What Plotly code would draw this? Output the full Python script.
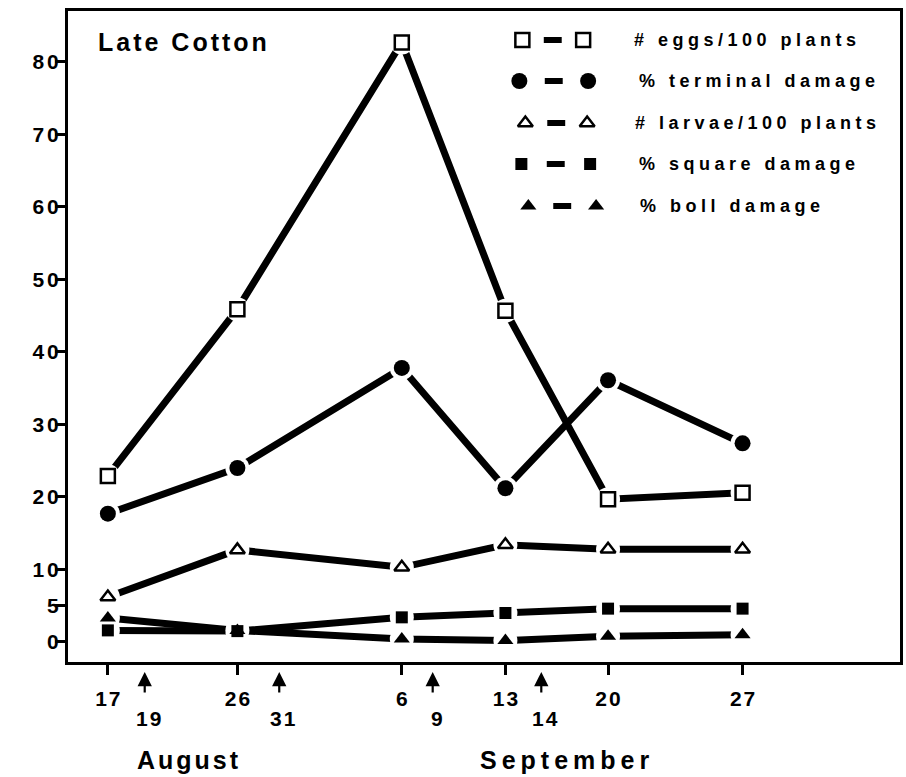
import plotly.graph_objects as go

# ---- data ----
date_labels = ["17", "26", "6", "13", "20", "27"]          # sampling dates
date_pos = [40, 170, 335, 439, 542, 677]                   # positions along the drawn date axis
spray_labels = ["19", "31", "9", "14"]                     # arrowed dates
spray_pos = [77, 212, 366, 475]
month_labels = ["August", "September"]

eggs = [22.9, 45.9, 82.7, 45.7, 19.7, 20.6]
terminal = [17.7, 24.0, 37.8, 21.2, 36.1, 27.4]
larvae = [6.2, 12.7, 10.3, 13.4, 12.8, 12.8]
square_dmg = [1.6, 1.5, 3.4, 4.0, 4.6, 4.6]
boll_dmg = [3.3, 1.6, 0.4, 0.2, 0.8, 1.0]

y_ticks = [0, 5, 10, 20, 30, 40, 50, 60, 70, 80]

series_names = ["# eggs/100 plants", "% terminal damage", "# larvae/100 plants",
                "% square damage", "% boll damage"]
series_vals = [eggs, terminal, larvae, square_dmg, boll_dmg]

FONT = "Liberation Sans, Arial, Helvetica, sans-serif"
styles = [
    dict(symbol="square", size=14, color="white", line=dict(color="black", width=2.5)),
    dict(symbol="circle", size=16, color="black", line=dict(width=0)),
    dict(symbol="triangle-up", size=13, color="white", line=dict(color="black", width=2.5)),
    dict(symbol="square", size=12, color="black", line=dict(width=0)),
    dict(symbol="triangle-up", size=14, color="black", line=dict(width=0)),
]

def spaced(t, s):
    # letter spacing between characters only (none after the last one)
    if len(t) < 2:
        return t
    return f'<span style="letter-spacing:{s}px">{t[:-1]}</span>{t[-1]}'

fig = go.Figure()

# lines with white "gap" markers
for vals in series_vals:
    fig.add_trace(go.Scatter(x=date_pos, y=vals, mode="lines+markers",
                             line=dict(color="black", width=7),
                             marker=dict(symbol="circle", size=24, color="white", line=dict(width=0)),
                             showlegend=False, hoverinfo="skip", cliponaxis=False))
# real markers on top
for vals, st, nm in zip(series_vals, styles, series_names):
    fig.add_trace(go.Scatter(x=date_pos, y=vals, mode="markers", name=nm,
                             marker=st, showlegend=False, cliponaxis=False))

# ---- custom legend (overlay axes in 0..1 units of the plot area) ----
W, H, L, T = 835.0, 651.0, 68.0, 11.0
def px_x(p):
    return (p - L) / W
def px_y(p):
    return (T + H - p) / H

leg_rows = [40, 81, 123, 164, 206]
leg_left = [524, 521, 527, 523, 530]
leg_right = [585, 590, 589, 592, 598]
leg_text_x = [634, 639, 635, 639, 640]
shapes = []
for i, st in enumerate(styles):
    ry = px_y(leg_rows[i])
    fig.add_trace(go.Scatter(x=[px_x(leg_left[i]), px_x(leg_right[i])], y=[ry, ry],
                             mode="markers", marker=st, xaxis="x2", yaxis="y2",
                             showlegend=False, hoverinfo="skip", cliponaxis=False))
    mid = (leg_left[i] + leg_right[i]) / 2
    shapes.append(dict(type="line", xref="x2", yref="y2",
                       x0=px_x(mid - 9), x1=px_x(mid + 9), y0=ry, y1=ry,
                       line=dict(color="black", width=6)))

annotations = []
for i, nm in enumerate(series_names):
    annotations.append(dict(xref="paper", yref="paper", x=px_x(leg_text_x[i]), y=px_y(leg_rows[i]),
                            text=spaced(nm, 4.5), showarrow=False, xanchor="left", yanchor="middle",
                            font=dict(family=FONT, size=18, color="black", weight="bold")))

# title
annotations.append(dict(xref="paper", yref="paper", x=px_x(96), y=px_y(42),
                        text=spaced("Late Cotton", 3), showarrow=False,
                        xanchor="left", yanchor="middle",
                        font=dict(family=FONT, size=25, color="black", weight="bold")))

# spray arrows + labels
for lab, xp in zip(spray_labels, spray_pos):
    annotations.append(dict(xref="x", yref="paper", x=xp, y=px_y(672), text="",
                            showarrow=True, ax=0, ay=22, arrowhead=2, arrowsize=1.3,
                            arrowwidth=2.2, arrowcolor="black"))
    annotations.append(dict(xref="x", yref="paper", x=xp + 4, y=px_y(718),
                            text=spaced(lab, 2), showarrow=False,
                            xanchor="center", yanchor="middle",
                            font=dict(family=FONT, size=21, color="black", weight="bold")))

# months
for lab, cx, sp in zip(month_labels, [188, 566], [3, 5]):
    annotations.append(dict(xref="paper", yref="paper", x=px_x(cx), y=px_y(760),
                            text=spaced(lab, sp), showarrow=False,
                            xanchor="center", yanchor="middle",
                            font=dict(family=FONT, size=25, color="black", weight="bold")))

fig.update_layout(
    width=906, height=777,
    margin=dict(l=68, r=3, t=11, b=115),
    paper_bgcolor="white", plot_bgcolor="white",
    showlegend=False,
    xaxis=dict(range=[0, 835], showgrid=False, zeroline=False, showline=True, mirror=True,
               linecolor="black", linewidth=3, ticks="outside", ticklen=10, tickwidth=2.5,
               tickcolor="black", tickvals=date_pos, ticktext=[spaced(t, 2) for t in date_labels],
               tickfont=dict(family=FONT, size=21, color="black", weight="bold"),
               ticklabelstandoff=6),
    yaxis=dict(range=[-2.76, 87.03], showgrid=False, zeroline=False, showline=True, mirror=True,
               linecolor="black", linewidth=3, ticks="outside", ticklen=10, tickwidth=2.5,
               tickcolor="black", tickvals=y_ticks, ticktext=[spaced(str(v), 3) for v in y_ticks],
               tickfont=dict(family=FONT, size=21, color="black", weight="bold"),
               ticklabelstandoff=-8),
    xaxis2=dict(overlaying="x", range=[0, 1], visible=False),
    yaxis2=dict(overlaying="y", range=[0, 1], visible=False),
    shapes=shapes,
    annotations=annotations,
)

fig.write_html("out.html", config={"displayModeBar": False},
               post_script="document.body.style.margin='0';document.body.style.overflow='hidden';")
